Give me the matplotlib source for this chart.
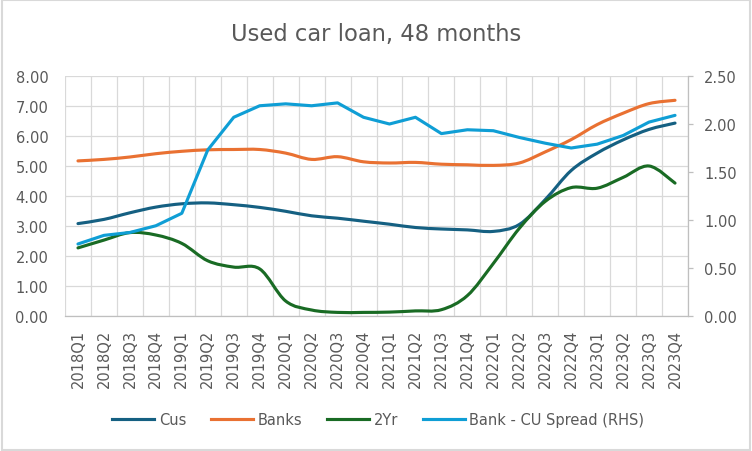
import matplotlib
matplotlib.use('Agg')
import matplotlib.pyplot as plt
from matplotlib.path import Path
from matplotlib.patches import PathPatch, Rectangle
from matplotlib.lines import Line2D
from matplotlib.ticker import MultipleLocator, FormatStrFormatter
import numpy as np

quarters = [f'{y}Q{q}' for y in range(2018, 2024) for q in range(1, 5)]

cus = [3.08, 3.22, 3.44, 3.63, 3.74, 3.77, 3.71, 3.62, 3.49, 3.34, 3.26, 3.16,
       3.06, 2.95, 2.90, 2.87, 2.82, 3.05, 3.88, 4.85, 5.43, 5.87, 6.22, 6.43]
banks = [5.17, 5.22, 5.30, 5.41, 5.49, 5.54, 5.55, 5.55, 5.43, 5.22, 5.31, 5.14,
         5.10, 5.12, 5.06, 5.04, 5.02, 5.10, 5.47, 5.88, 6.38, 6.76, 7.08, 7.19]
two_yr = [2.27, 2.53, 2.78, 2.70, 2.42, 1.84, 1.63, 1.57, 0.50, 0.20, 0.12, 0.12,
          0.13, 0.17, 0.21, 0.68, 1.75, 2.92, 3.82, 4.28, 4.26, 4.62, 5.00, 4.43]
spread = [0.75, 0.84, 0.87, 0.94, 1.07, 1.73, 2.07, 2.19, 2.21, 2.19, 2.22, 2.07,
          2.00, 2.07, 1.90, 1.94, 1.93, 1.86, 1.80, 1.75, 1.79, 1.88, 2.02, 2.09]

C_CUS = '#156082'
C_BANKS = '#E97132'
C_2YR = '#196B24'
C_SPREAD = '#0F9ED5'
TXT = '#595959'
GRID = '#D9D9D9'


def smooth_path(x, y):
    # Excel-style smoothed line: cubic bezier through every data point
    x = np.asarray(x, float)
    y = np.asarray(y, float)
    px = np.concatenate([[x[0]], x, [x[-1]]])
    py = np.concatenate([[y[0]], y, [y[-1]]])
    verts = [(x[0], y[0])]
    codes = [Path.MOVETO]
    for i in range(len(x) - 1):
        j = i + 1
        c1 = (px[j] + (px[j + 1] - px[j - 1]) / 6, py[j] + (py[j + 1] - py[j - 1]) / 6)
        c2 = (px[j + 1] - (px[j + 2] - px[j]) / 6, py[j + 1] - (py[j + 2] - py[j]) / 6)
        verts += [c1, c2, (px[j + 1], py[j + 1])]
        codes += [Path.CURVE4] * 3
    return Path(verts, codes)


fig = plt.figure(figsize=(7.52, 4.52), dpi=100)
ax = fig.add_axes([65 / 752, 1 - 317 / 452, (688 - 65) / 752, 240 / 452])
ax2 = ax.twinx()

x = np.arange(len(quarters))
for vals, col in [(cus, C_CUS), (banks, C_BANKS), (two_yr, C_2YR)]:
    ax.add_patch(PathPatch(smooth_path(x, vals), fill=False, edgecolor=col,
                           lw=2.25, capstyle='round', joinstyle='round', zorder=3))
ax2.plot(x, spread, color=C_SPREAD, lw=2.25, solid_capstyle='round',
         solid_joinstyle='round', zorder=3)

ax.set_xlim(-0.5, len(quarters) - 0.5)
ax.set_ylim(0, 8)
ax2.set_ylim(0, 2.5)

ax.set_xticks(x)
ax.set_xticklabels(quarters, rotation=90)
ax.set_xticks(np.arange(-0.5, len(quarters), 1), minor=True)
ax.yaxis.set_major_locator(MultipleLocator(1))
ax.yaxis.set_major_formatter(FormatStrFormatter('%.2f'))
ax2.yaxis.set_major_locator(MultipleLocator(0.5))
ax2.yaxis.set_major_formatter(FormatStrFormatter('%.2f'))

ax.grid(which='minor', axis='x', color=GRID, lw=0.9)
ax.grid(which='major', axis='y', color=GRID, lw=0.9)
ax.set_axisbelow(True)

ax.tick_params(axis='x', which='both', length=0, pad=9, labelsize=10.5, labelcolor=TXT)
ax.tick_params(axis='y', length=0, pad=12, labelsize=10.5, labelcolor=TXT)
ax2.tick_params(axis='y', length=3.6, width=0.9, color='#BFBFBF', pad=8,
                labelsize=10.5, labelcolor=TXT)

for s in ['left', 'top', 'right']:
    ax.spines[s].set_visible(False)
ax.spines['bottom'].set_color('#BFBFBF')
ax.spines['bottom'].set_linewidth(0.9)
for s in ['left', 'top', 'bottom']:
    ax2.spines[s].set_visible(False)
ax2.spines['right'].set_color('#BFBFBF')
ax2.spines['right'].set_linewidth(0.9)

fig.text(0.5, 1 - 34 / 452, 'Used car loan, 48 months', ha='center', va='center',
         fontsize=16.3, color=TXT)

handles = [Line2D([], [], color=c, lw=2.25) for c in [C_CUS, C_BANKS, C_2YR, C_SPREAD]]
labels = ['Cus', 'Banks', '2Yr', 'Bank - CU Spread (RHS)']
fig.legend(handles, labels, loc='center', bbox_to_anchor=(0.503, 1 - 421 / 452),
           ncol=4, frameon=False, handlelength=2.9, columnspacing=1.7,
           handletextpad=0.3, fontsize=10.5, labelcolor=TXT)

fig.patches.append(Rectangle((0.002, 0.003), 0.996, 0.994, transform=fig.transFigure,
                             fill=False, edgecolor=GRID, lw=1.5))

fig.savefig('out.png', dpi=100)
